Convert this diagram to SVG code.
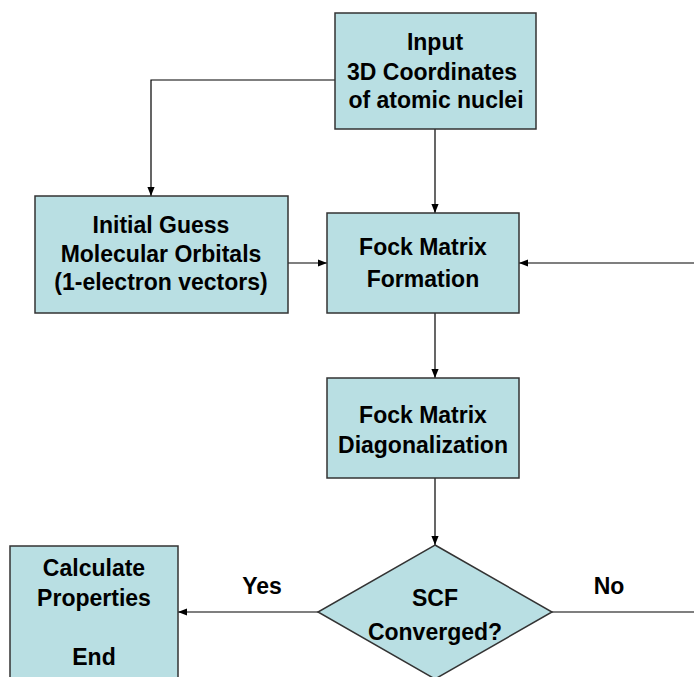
<svg xmlns="http://www.w3.org/2000/svg" width="694" height="677" viewBox="0 0 694 677">
<style>
.box{fill:#b9dfe3;stroke:#333;stroke-width:1.5}
.t{font-family:"Liberation Sans",Arial,sans-serif;font-size:23px;font-weight:bold;fill:#000;text-anchor:middle}
.c{fill:none;stroke:#000;stroke-width:1.2}
</style>
<defs>
<marker id="a" viewBox="0 0 10 10" refX="10" refY="5" markerWidth="9" markerHeight="9" markerUnits="userSpaceOnUse" orient="auto">
<path d="M0,1 L10,5 L0,9 z" fill="#000"/>
</marker>
</defs>
<rect width="694" height="677" fill="#fff"/>
<g id="connectors">
<path class="c" d="M335,80 H151 V196" marker-end="url(#a)"/>
<path class="c" d="M435,129 V213" marker-end="url(#a)"/>
<path class="c" d="M288,263 H327" marker-end="url(#a)"/>
<path class="c" d="M694,263 H519" marker-end="url(#a)"/>
<path class="c" d="M435,313 V378" marker-end="url(#a)"/>
<path class="c" d="M435,478 V545" marker-end="url(#a)"/>
<path class="c" d="M318,612 H178" marker-end="url(#a)"/>
<path class="c" d="M552,612 H694"/>
<text class="t" x="262" y="594">Yes</text>
<text class="t" x="609" y="594">No</text>
</g>
<g id="input">
<rect class="box" x="335" y="13" width="201" height="116"/>
<text class="t" x="435" y="50">Input</text>
<text class="t" x="432" y="80">3D Coordinates</text>
<text class="t" x="436" y="108">of atomic nuclei</text>
</g>
<g id="guess">
<rect class="box" x="35" y="196" width="253" height="117"/>
<text class="t" x="161" y="233">Initial Guess</text>
<text class="t" x="161" y="262">Molecular Orbitals</text>
<text class="t" x="161" y="290">(1-electron vectors)</text>
</g>
<g id="formation">
<rect class="box" x="327" y="213" width="192" height="100"/>
<text class="t" x="423" y="255">Fock Matrix</text>
<text class="t" x="423" y="287">Formation</text>
</g>
<g id="diag">
<rect class="box" x="327" y="378" width="192" height="100"/>
<text class="t" x="423" y="423">Fock Matrix</text>
<text class="t" x="423" y="453">Diagonalization</text>
</g>
<g id="scf">
<polygon class="box" points="435,545 552,612 435,679 318,612"/>
<text class="t" x="435" y="606">SCF</text>
<text class="t" x="435" y="640">Converged?</text>
</g>
<g id="calc">
<rect class="box" x="10" y="546" width="168" height="140"/>
<text class="t" x="94" y="576">Calculate</text>
<text class="t" x="94" y="606">Properties</text>
<text class="t" x="94" y="665">End</text>
</g>
</svg>
